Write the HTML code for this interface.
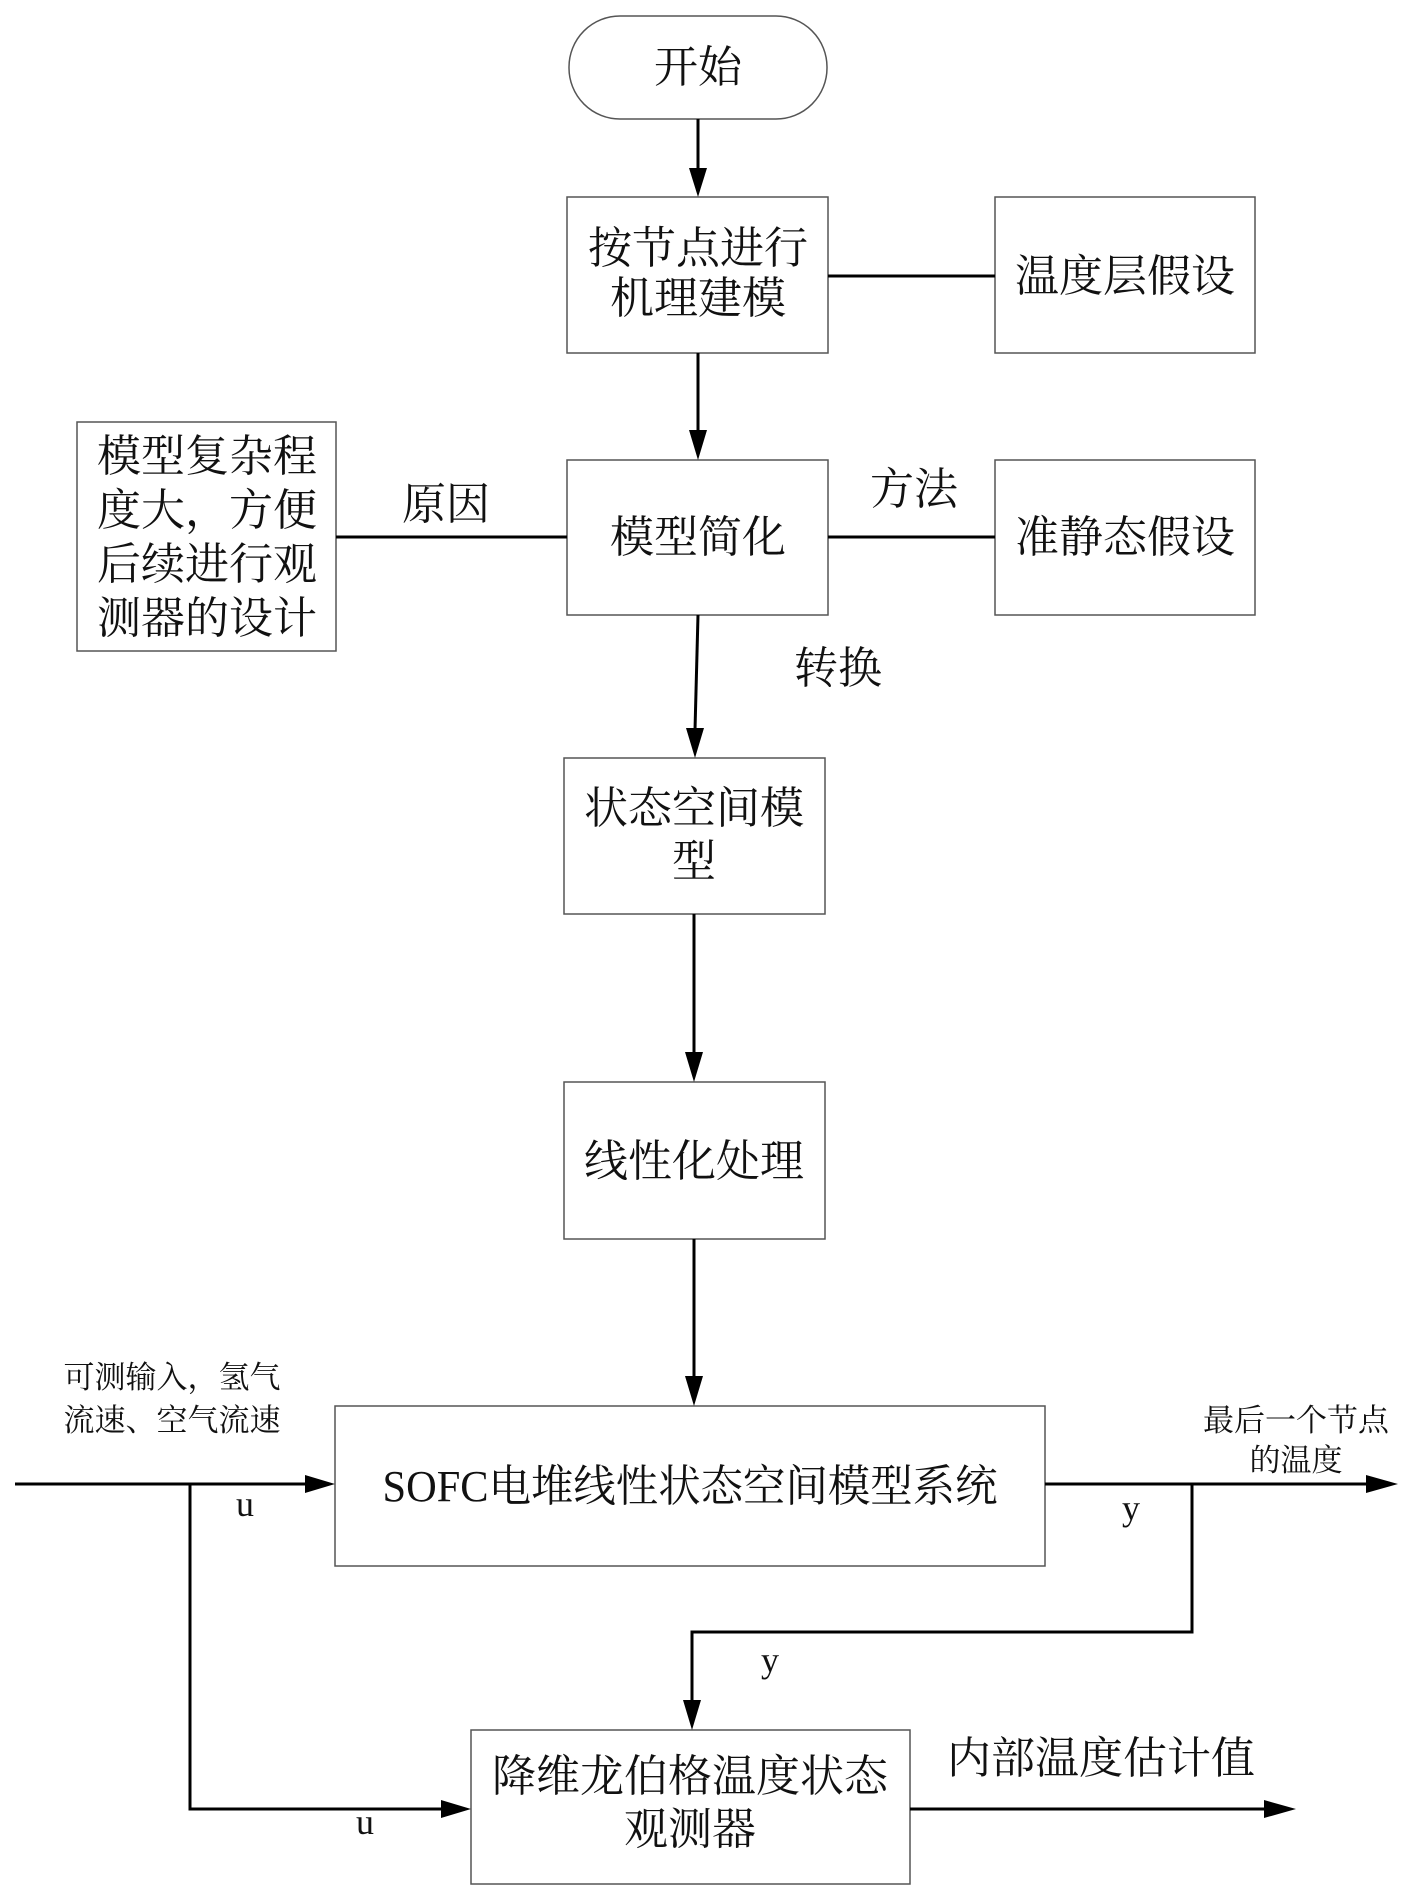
<!DOCTYPE html>
<html><head><meta charset="utf-8"><style>
html,body{margin:0;padding:0;background:#fff;}
svg{display:block}
text{font-family:"Liberation Serif","Noto Serif CJK SC",serif;fill:#111;}
</style></head><body>
<svg width="1409" height="1891" viewBox="0 0 1409 1891" xmlns="http://www.w3.org/2000/svg">
<g fill="none" stroke="#555" stroke-width="1.5">
<rect x="569" y="16" width="258" height="103" rx="51" ry="51"/>
<rect x="567" y="197" width="261" height="156"/>
<rect x="995" y="197" width="260" height="156"/>
<rect x="567" y="460" width="261" height="155"/>
<rect x="77" y="422" width="259" height="229"/>
<rect x="995" y="460" width="260" height="155"/>
<rect x="564" y="758" width="261" height="156"/>
<rect x="564" y="1082" width="261" height="157"/>
<rect x="335" y="1406" width="710" height="160"/>
<rect x="471" y="1730" width="439" height="154"/>
</g>
<g stroke="#000" stroke-width="3" fill="none">
<line x1="698" y1="119" x2="698" y2="170"/>
<line x1="828" y1="276" x2="995" y2="276"/>
<line x1="698" y1="353" x2="698" y2="432"/>
<line x1="336" y1="537" x2="567" y2="537"/>
<line x1="828" y1="537" x2="995" y2="537"/>
<line x1="698" y1="615" x2="695" y2="730"/>
<line x1="694" y1="914" x2="694" y2="1054"/>
<line x1="694" y1="1239" x2="694" y2="1378"/>
<line x1="15" y1="1484" x2="308" y2="1484"/>
<polyline points="190,1484 190,1809 444,1809"/>
<line x1="1045" y1="1484" x2="1370" y2="1484"/>
<polyline points="1192,1484 1192,1632 692,1632 692,1703"/>
<line x1="910" y1="1809" x2="1268" y2="1809"/>
</g>
<g fill="#000">
<polygon points="689,168 707,168 698,197"/>
<polygon points="689,430 707,430 698,460"/>
<polygon points="686,728 704,728 695,758"/>
<polygon points="685,1052 703,1052 694,1082"/>
<polygon points="685,1376 703,1376 694,1406"/>
<polygon points="305,1475 305,1493 335,1484"/>
<polygon points="441,1800 441,1818 471,1809"/>
<polygon points="1366,1475 1366,1493 1398,1484"/>
<polygon points="683,1700 701,1700 692,1730"/>
<polygon points="1264,1800 1264,1818 1296,1809"/>
</g>
<g font-size="44" text-anchor="middle">
<text x="698" y="82">开始</text>
<text x="698" y="263">按节点进行</text>
<text x="698" y="313">机理建模</text>
<text x="1125" y="291">温度层假设</text>
<text x="698" y="552">模型简化</text>
<text x="1125" y="552">准静态假设</text>
<text x="207" y="471">模型复杂程</text>
<text x="207" y="525">度大，方便</text>
<text x="207" y="579">后续进行观</text>
<text x="207" y="633">测器的设计</text>
<text x="446" y="519">原因</text>
<text x="914" y="504">方法</text>
<text x="838" y="683">转换</text>
<text x="694" y="823">状态空间模</text>
<text x="694" y="876">型</text>
<text x="694" y="1176">线性化处理</text>
<text x="690" y="1501" textLength="615" lengthAdjust="spacingAndGlyphs">SOFC电堆线性状态空间模型系统</text>
<text x="690" y="1791">降维龙伯格温度状态</text>
<text x="690" y="1844">观测器</text>
<text x="1101" y="1773">内部温度估计值</text>
</g>
<g font-size="31" text-anchor="middle">
<text x="172" y="1388">可测输入，氢气</text>
<text x="172" y="1431">流速、空气流速</text>
<text x="1296" y="1431">最后一个节点</text>
<text x="1296" y="1471">的温度</text>
</g>
<g font-size="36" text-anchor="middle">
<text x="245" y="1516">u</text>
<text x="1131" y="1520">y</text>
<text x="770" y="1672">y</text>
<text x="365" y="1834">u</text>
</g>
</svg>
</body></html>
